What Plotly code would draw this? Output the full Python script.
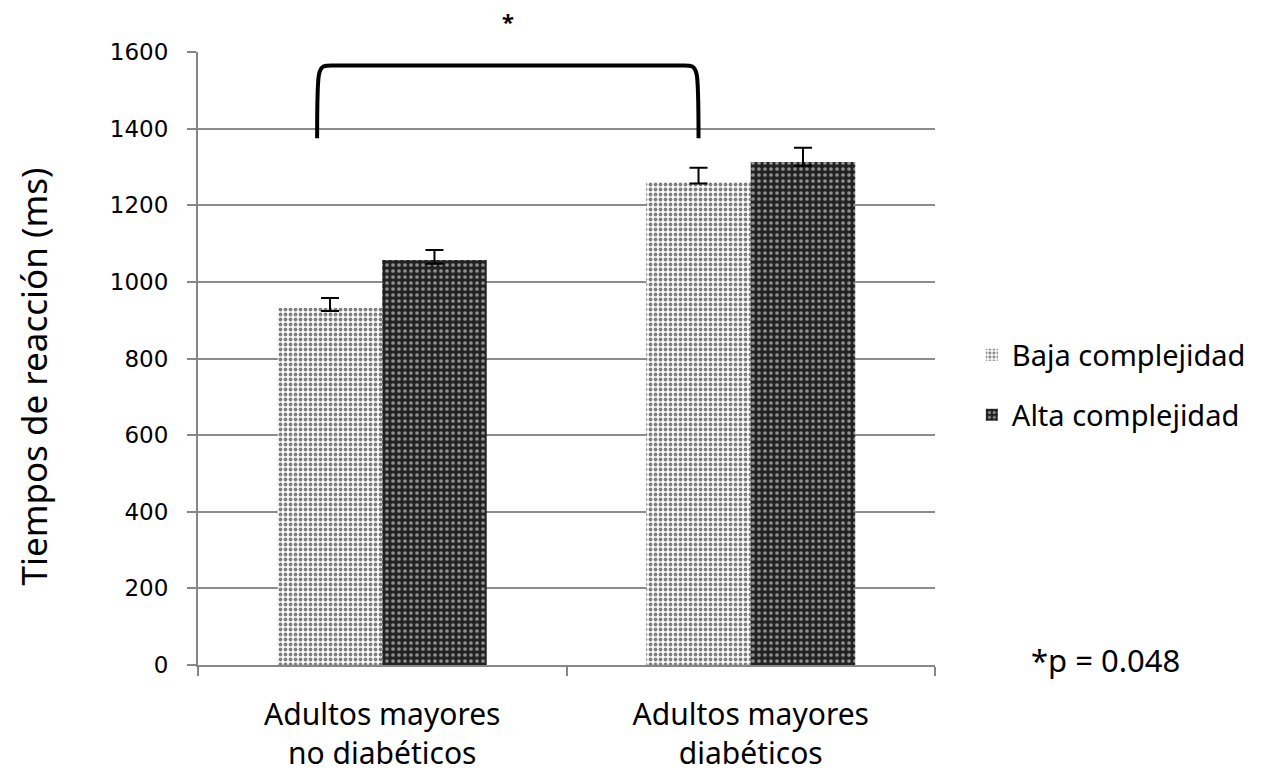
import plotly.graph_objects as go

categories = ["Adultos mayores<br>no diabéticos", "Adultos mayores<br>diabéticos"]
series_names = ["Baja complejidad", "Alta complejidad"]
baja = [932, 1261]
alta = [1057, 1313]
baja_err_plus = [26, 37]
baja_err_minus = [8, 4]
alta_err_plus = [26, 37]
alta_err_minus = [10, 10]
y_ticks = [0, 200, 400, 600, 800, 1000, 1200, 1400, 1600]
y_title = "Tiempos de reacción (ms)"

font_main = "Noto Sans"

fig = go.Figure()
fig.add_trace(go.Bar(
    x=categories, y=baja, name=series_names[0], legend="legend",
    marker=dict(color="white", line=dict(width=0),
                pattern=dict(shape=".", fgcolor="black", bgcolor="white", size=5, solidity=0.45)),
    error_y=dict(type="data", symmetric=False, array=baja_err_plus, arrayminus=baja_err_minus,
                 color="black", thickness=2, width=9),
))
fig.add_trace(go.Bar(
    x=categories, y=alta, name=series_names[1], legend="legend2",
    marker=dict(color="#222222", line=dict(width=0),
                pattern=dict(shape=".", fgcolor="white", bgcolor="#222222", size=6, solidity=0.3)),
    error_y=dict(type="data", symmetric=False, array=alta_err_plus, arrayminus=alta_err_minus,
                 color="black", thickness=2, width=9),
))

# significance bracket (data coords: category index, value)
bw = 0.567 / 2
xl = 0 - bw / 2 - 0.035
xr = 1 - bw / 2
y0, y1 = 1375, 1565
fig.add_shape(type="path",
              path=f"M {xl},{y0} C {xl},{y1} {xl},{y1} {xl+0.04},{y1} L {xr-0.04},{y1} C {xr},{y1} {xr},{y1} {xr},{y0}",
              xref="x", yref="y", line=dict(color="black", width=4))
fig.add_annotation(x=(xl + xr) / 2, y=1.0, xref="x", yref="paper", yshift=48,
                   text="<b>*</b>", showarrow=False, font=dict(size=22, color="black", family=font_main))
fig.add_annotation(x=1.232, y=0.0, xref="paper", yref="paper", yshift=5, yanchor="middle",
                   text="*p = 0.048", showarrow=False, xanchor="center",
                   font=dict(size=31, color="black", family=font_main))
fig.add_annotation(x=-0.223, y=0.47, xref="paper", yref="paper", textangle=-90,
                   xanchor="center", yanchor="middle", text=y_title, showarrow=False,
                   font=dict(size=35, color="black", family=font_main))

legend_common = dict(xanchor="left", yanchor="middle", itemsizing="constant",
                     font=dict(size=29, color="black", family=font_main), bgcolor="rgba(0,0,0,0)")
fig.update_layout(
    width=1263, height=780,
    margin=dict(l=198, r=325, t=52, b=115),
    paper_bgcolor="white", plot_bgcolor="white",
    barmode="group", bargap=0.433, bargroupgap=0,
    showlegend=True,
    legend=dict(x=1.05, y=(665 - 355) / 613, **legend_common),
    legend2=dict(x=1.05, y=(665 - 415) / 613, **legend_common),
    font=dict(family=font_main, color="black"),
)
fig.update_xaxes(
    type="category", automargin=False,
    showgrid=False, showline=True, linecolor="#868686", linewidth=2,
    ticks="outside", tickson="boundaries", ticklen=9, tickcolor="#868686", tickwidth=2,
    tickfont=dict(size=30, family=font_main, color="black"), ticklabelstandoff=22,
)
fig.update_yaxes(
    range=[0, 1600], tickvals=y_ticks, automargin=False,
    showgrid=True, gridcolor="#8c8c8c", gridwidth=2,
    showline=True, linecolor="#868686", linewidth=2,
    ticks="outside", ticklen=9, tickcolor="#868686", tickwidth=2,
    tickfont=dict(size=23, family="DejaVu Sans", color="black"), ticklabelstandoff=14,
    zeroline=False,
)

fig.write_html("out.html")
